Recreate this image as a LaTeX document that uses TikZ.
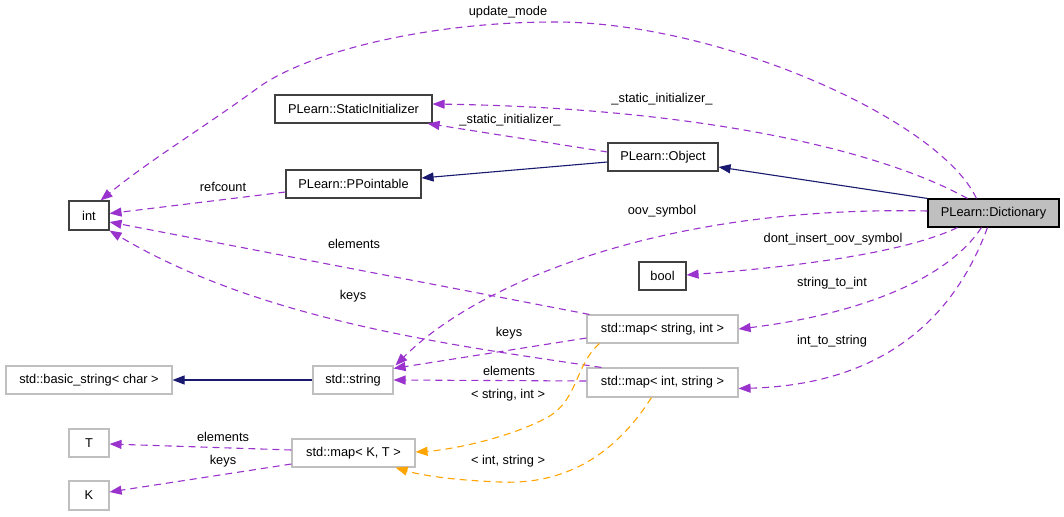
\documentclass[tikz,border=0pt]{standalone}
\usepackage{fontspec}
\setmainfont{Liberation Sans}
\usetikzlibrary{arrows.meta,calc}
\definecolor{edgepurple}{HTML}{9A32CD}
\definecolor{navyblue}{HTML}{191970}
\definecolor{orng}{HTML}{FFA500}
\definecolor{boxgray}{HTML}{BFBFBF}
\definecolor{boxdark}{HTML}{404040}
\newcommand\fsz{\fontsize{12.8}{15}\selectfont}
\begin{document}
\begin{tikzpicture}[x=1pt,y=-1pt,
  box/.style={draw=boxdark, line width=1.1pt, fill=white, minimum height=28pt, inner sep=0pt, font=\fsz},
  gbox/.style={box, draw=boxgray},
  lbl/.style={font=\fsz, inner sep=0pt},
  member/.style={draw=edgepurple, dash pattern=on 7pt off 5pt, line width=1.1pt, -{Triangle[length=12pt,width=9pt,fill=edgepurple]}},
  inherit/.style={draw=navyblue, line width=1.1pt, -{Triangle[length=12pt,width=9pt,fill=navyblue]}},
  tmpl/.style={draw=orng, dash pattern=on 7pt off 5pt, line width=1.1pt, -{Triangle[length=12pt,width=9pt,fill=orng]}}]
\useasboundingbox (0,0) rectangle (1064,516);
\fill[white] (0,0) rectangle (1064,516);

% nodes
\node[box, minimum width=40pt, minimum height=29pt] (int) at (89,215.5) {int};
\node[box, minimum width=157pt] (sinit) at (353.5,109) {PLearn::StaticInitializer};
\node[box, minimum width=135pt] (ppoint) at (353.5,184) {PLearn::PPointable};
\node[box, minimum width=110pt] (obj) at (663,157) {PLearn::Object};
\node[box, minimum width=131pt, fill=boxgray, draw=black] (dict) at (993.5,213) {PLearn::Dictionary};
\node[box, minimum width=47pt] (bool) at (662.5,276) {bool};
\node[gbox, minimum width=151pt] (msi) at (662.5,329) {std::map< string, int >};
\node[gbox, minimum width=151pt, minimum height=29pt] (mis) at (662.5,382.5) {std::map< int, string >};
\node[gbox, minimum width=80pt] (str) at (353,380) {std::string};
\node[gbox, minimum width=166pt] (bstr) at (89,380) {std::basic\_string< char >};
\node[gbox, minimum width=40pt] (T) at (89,443) {T};
\node[gbox, minimum width=40pt, minimum height=29pt] (K) at (89,495.5) {K};
\node[gbox, minimum width=123pt] (mkt) at (353.5,453) {std::map< K, T >};

% inheritance
\draw[inherit] (dict.north west) -- ($(obj.east)+(0,10)$);
\draw[inherit] ($(obj.west)+(0,5)$) -- ($(ppoint.east)+(0,-6)$);
\draw[inherit] (str.west) -- (bstr.east);

% members
\draw[member] ($(obj.west)+(0,-5)$) -- ($(sinit.south east)+(-5,0)$);
\draw[member] ($(dict.north west)+(40,0)$) .. controls (880,150) and (700,108) .. ($(sinit.east)+(0,-5)$);
\draw[member] ($(dict.north west)+(49,0)$) .. controls (940,120) and (720,22) .. (555,22)
   .. controls (420,22) and (300,55) .. (255,90) .. controls (200,130) and (150,160) .. ($(int.north east)+(-9,0)$);
\draw[member] ($(ppoint.west)+(0,8)$) -- ($(int.east)+(0,-2)$);
\draw[member] ($(msi.north west)+(3,0)$) -- ($(int.east)+(0,6.5)$);
\draw[member] ($(mis.north west)+(15,0)$) .. controls (450,345) and (260,320) .. (int.south east);
\draw[member] ($(dict.west)+(0,-2)$) .. controls (650,205) and (470,290) .. ($(str.north east)+(2,0)$);
\draw[member] ($(dict.south west)+(30,0)$) .. controls (900,255) and (780,268) .. ($(bool.east)+(0,-1)$);
\draw[member] ($(dict.south west)+(54,0)$) .. controls (940,290) and (830,318) .. (msi.east);
\draw[member] ($(dict.south west)+(60,0)$) .. controls (950,330) and (870,385) .. ($(mis.east)+(0,6)$);
\draw[member] ($(msi.west)+(0,9)$) -- ($(str.north east)+(0,3)$);
\draw[member] ($(mis.west)+(0,-1.5)$) -- (str.east);
\draw[member] ($(mkt.west)+(0,-3)$) -- ($(T.east)+(0,1)$);
\draw[member] ($(mkt.west)+(0,11)$) -- ($(K.east)+(0,-3.5)$);

% template instances
\draw[tmpl] ($(msi.south west)+(13,0)$) .. controls (575,365) and (578,400) .. (548,417)
   .. controls (510,438) and (450,450) .. ($(mkt.east)+(0,-1)$);
\draw[tmpl] ($(mis.south west)+(65,0)$) .. controls (615,455) and (565,485) .. (500,482)
   .. controls (450,480) and (420,475) .. ($(mkt.south east)+(-20,0)$);

% labels
\node[lbl] (l1) at (508,12) {update\_mode};
\node[lbl] (l2) at (662,99) {\_static\_initializer\_};
\node[lbl] (l3) at (510,120) {\_static\_initializer\_};
\node[lbl] (l4) at (223,187) {refcount};
\node[lbl] (l5) at (354,244) {elements};
\node[lbl] (l6) at (662,211) {oov\_symbol};
\node[lbl] (l7) at (833,239) {dont\_insert\_oov\_symbol};
\node[lbl] (l8) at (353,296) {keys};
\node[lbl] (l9) at (832,283) {string\_to\_int};
\node[lbl] (l10) at (509,333) {keys};
\node[lbl] (l11) at (832,341) {int\_to\_string};
\node[lbl] (l12) at (509,371) {elements};
\node[lbl] (l13) at (508,395) {< string, int >};
\node[lbl] (l14) at (223,437) {elements};
\node[lbl] (l15) at (223,461) {keys};
\node[lbl] (l16) at (508,461) {< int, string >};
\end{tikzpicture}
\end{document}
